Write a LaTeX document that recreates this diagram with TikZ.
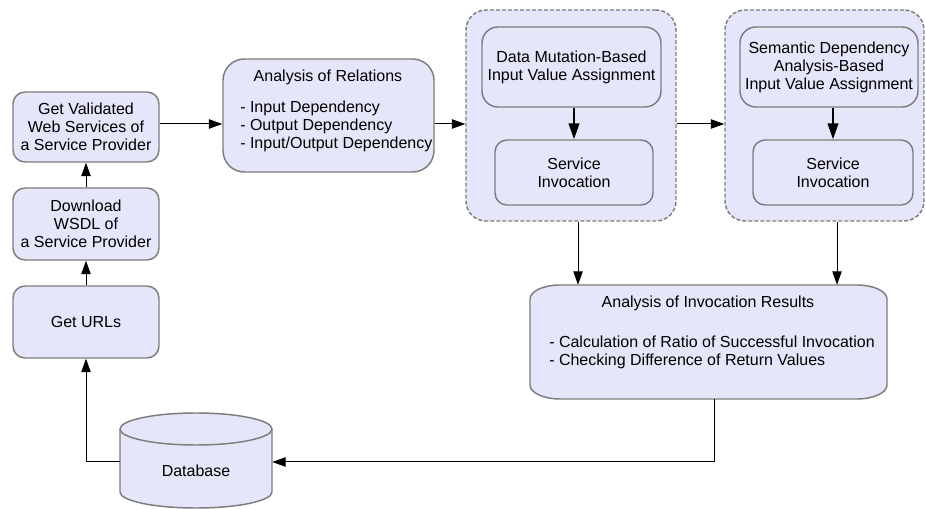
\documentclass[tikz,border=0pt]{standalone}
\usepackage{fontspec}
\setmainfont{Liberation Sans}
\usetikzlibrary{arrows.meta}
\definecolor{boxfill}{RGB}{230,230,250}
\definecolor{boxline}{RGB}{125,125,125}

\begin{document}
\begin{tikzpicture}[x=0.75pt,y=-0.75pt,
  font=\fontsize{12}{13.5}\selectfont,
  base/.style={draw=boxline, fill=boxfill, line width=1.1pt, align=center, inner sep=0pt},
  dims/.style 2 args={minimum width=#1*0.75pt, minimum height=#2*0.75pt},
  stepbox/.style={base, rounded corners=9pt},
  bigbox/.style={base, rounded corners=16pt},
  groupbox/.style={base, dash pattern=on 3pt off 1.5pt, rounded corners=15pt},
  flow/.style={-{Triangle[length=10pt,width=7pt]}, line width=0.75pt},
  inflow/.style={-{Triangle[length=12pt,width=8pt]}, line width=1.5pt},
  txt/.style={inner sep=0pt}
]
\useasboundingbox (0,0) rectangle (925,509);

% left column
\node[stepbox, dims={146}{70}] (gv) at (86,127) {Get Validated\\Web Services of\\a Service Provider};
\node[stepbox, dims={146}{72}] (dl) at (86,224) {Download\\WSDL of\\a Service Provider};
\node[stepbox, dims={146}{72}] (urls) at (86,322) {Get URLs};

% relation analysis
\node[bigbox, dims={211}{113}] (rel) at (328.5,115.5) {};
\node[txt] (relt) at (328,77) {Analysis of Relations};
\node[txt, anchor=west, align=left] (rell) at (240,126) {- Input Dependency\\- Output Dependency\\- Input/Output Dependency};

% first group
\node[groupbox, dims={210}{211}] (g1) at (571,115.5) {};
\node[stepbox, rounded corners=12pt, dims={179}{80}] (dm) at (571.5,67) {Data Mutation-Based\\Input Value Assignment};
\node[stepbox, dims={158}{65}] (si1) at (574,172.5) {Service\\Invocation};

% second group
\node[groupbox, dims={199}{211}] (g2) at (824.5,115.5) {};
\node[stepbox, rounded corners=12pt, dims={178}{80}] (sd) at (829,67) {Semantic Dependency\\Analysis-Based\\Input Value Assignment};
\node[stepbox, dims={160}{65}] (si2) at (833,172.5) {Service\\Invocation};

% invocation result analysis: box with elliptical corners
\draw[boxline, fill=boxfill, line width=1.1pt]
  (560,285) -- (857,285) .. controls (873.6,285) and (887,291.3) .. (887,299)
  -- (887,385) .. controls (887,392.7) and (873.6,399) .. (857,399)
  -- (560,399) .. controls (543.4,399) and (530,392.7) .. (530,385)
  -- (530,299) .. controls (530,291.3) and (543.4,285) .. (560,285) -- cycle;
\node[txt, dims={357}{114}] (air) at (708.5,342) {};
\node[txt] (airt) at (708,303) {Analysis of Invocation Results};
\node[txt, anchor=west, align=left] (airl) at (549,352.5) {- Calculation of Ratio of Successful Invocation\\- Checking Difference of Return Values};

% database cylinder
\fill[boxfill] (120,429) -- (120,492) .. controls (120,500.84) and (154,508) .. (196,508)
  .. controls (238,508) and (272,500.84) .. (272,492) -- (272,429) -- cycle;
\draw[boxline, line width=1.1pt] (120,429) -- (120,492) .. controls (120,500.84) and (154,508) .. (196,508)
  .. controls (238,508) and (272,500.84) .. (272,492) -- (272,429);
\draw[boxline, fill=boxfill, line width=1.1pt] (196,429) ellipse [x radius=57pt, y radius=12pt];
\node[txt, dims={152}{95}] (db) at (196,460.5) {};
\node[txt] (dbt) at (196,471) {Database};

% connectors
\coordinate (row) at (0,124);
\coordinate (c1) at (578,0);
\coordinate (c2) at (837,0);
\coordinate (c3) at (714,0);
\coordinate (dbrow) at (0,462);

\draw[flow] (urls.north) -- (dl.south);
\draw[flow] (dl.north) -- (gv.south);
\draw[flow] (gv.east |- row) -- (rel.west |- row);
\draw[flow] (rel.east |- row) -- (g1.west |- row);
\draw[flow] (g1.east |- row) -- (g2.west |- row);
\draw[inflow] (dm.south -| si1.north) -- (si1.north);
\draw[inflow] (sd.south -| si2.north) -- (si2.north);
\draw[flow] (g1.south -| c1) -- (air.north -| c1);
\draw[flow] (g2.south -| c2) -- (air.north -| c2);
\draw[flow] (air.south -| c3) |- (db.east |- dbrow);
\draw[flow] (db.west |- dbrow) -| (urls.south);
\end{tikzpicture}
\end{document}
